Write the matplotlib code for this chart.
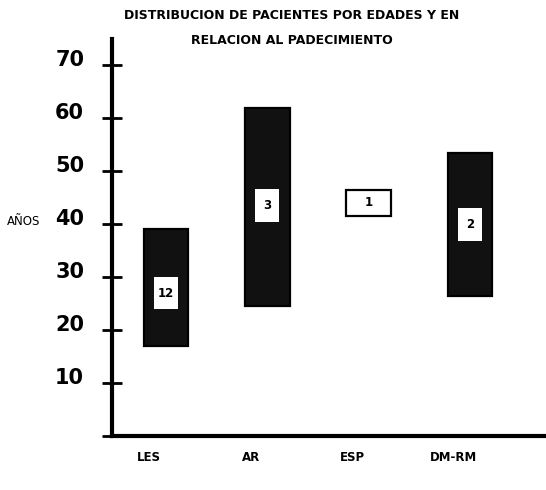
import matplotlib
matplotlib.use('Agg')
import matplotlib.pyplot as plt
from matplotlib.transforms import ScaledTranslation

# ***** Datos *****
padecimientos = ['LES', 'AR', 'ESP', 'DM-RM']
edad_min = [17, 24.5, 41.5, 26.5]
edad_max = [39, 62, 46.5, 53.5]
num_pacientes = [12, 3, 1, 2]
centro_etiqueta = [27, 43.5, 44, 40]
y_ticks = [0, 10, 20, 30, 40, 50, 60, 70]
y_ticklabels = ['', '10', '20', '30', '40', '50', '60', '70']

# ***** Figura *****
fig = plt.figure(figsize=(5.46, 4.9), dpi=100)
ax = fig.add_axes([0.205, 0.110, 0.795, 0.811])

pos = list(range(len(padecimientos)))
alturas = [hi - lo for lo, hi in zip(edad_min, edad_max)]

# barras de rango (ESP va hueca)
caras = ['#111111', '#111111', 'white', '#111111']
ax.bar(pos, alturas, bottom=edad_min, width=0.44, color=caras,
       edgecolor='black', linewidth=1.6, zorder=2)

# recuadros blancos con el numero de pacientes
for i, n in enumerate(num_pacientes):
    if padecimientos[i] != 'ESP':
        ax.bar(i, 6.2, bottom=centro_etiqueta[i] - 3.1, width=0.24,
               color='white', edgecolor='none', zorder=3)
    ax.text(i, centro_etiqueta[i], str(n), ha='center', va='center',
            fontsize=8.5, fontweight='bold', zorder=4)

# ***** Ejes *****
ax.set_xlim(-0.533, 3.75)
ax.set_ylim(0, 75)
for s in ['top', 'right']:
    ax.spines[s].set_visible(False)
ax.spines['left'].set_linewidth(3)
ax.spines['bottom'].set_linewidth(3)

ax.set_yticks(y_ticks)
ax.set_yticklabels(y_ticklabels, fontsize=15, fontweight='heavy')
ax.tick_params(axis='y', direction='inout', length=14, width=2, pad=13)
for lab in ax.get_yticklabels():
    lab.set_transform(lab.get_transform() +
                      ScaledTranslation(0, 5 / 72, fig.dpi_scale_trans))

ax.set_xticks(pos)
ax.set_xticklabels(padecimientos, fontsize=8.5, fontweight='bold')
ax.tick_params(axis='x', length=0, pad=11)
for lab in ax.get_xticklabels():
    lab.set_transform(lab.get_transform() +
                      ScaledTranslation(-12 / 72, 0, fig.dpi_scale_trans))

fig.text(0.013, 0.548, 'AÑOS', fontsize=8.5, va='center', ha='left')

# ***** Titulo *****
fig.text(0.535, 0.969, 'DISTRIBUCION DE PACIENTES POR EDADES Y EN',
         ha='center', va='center', fontsize=9, fontweight='bold')
fig.text(0.535, 0.918, 'RELACION AL PADECIMIENTO',
         ha='center', va='center', fontsize=9, fontweight='bold')

fig.savefig('out.png', dpi=100, facecolor='white')
